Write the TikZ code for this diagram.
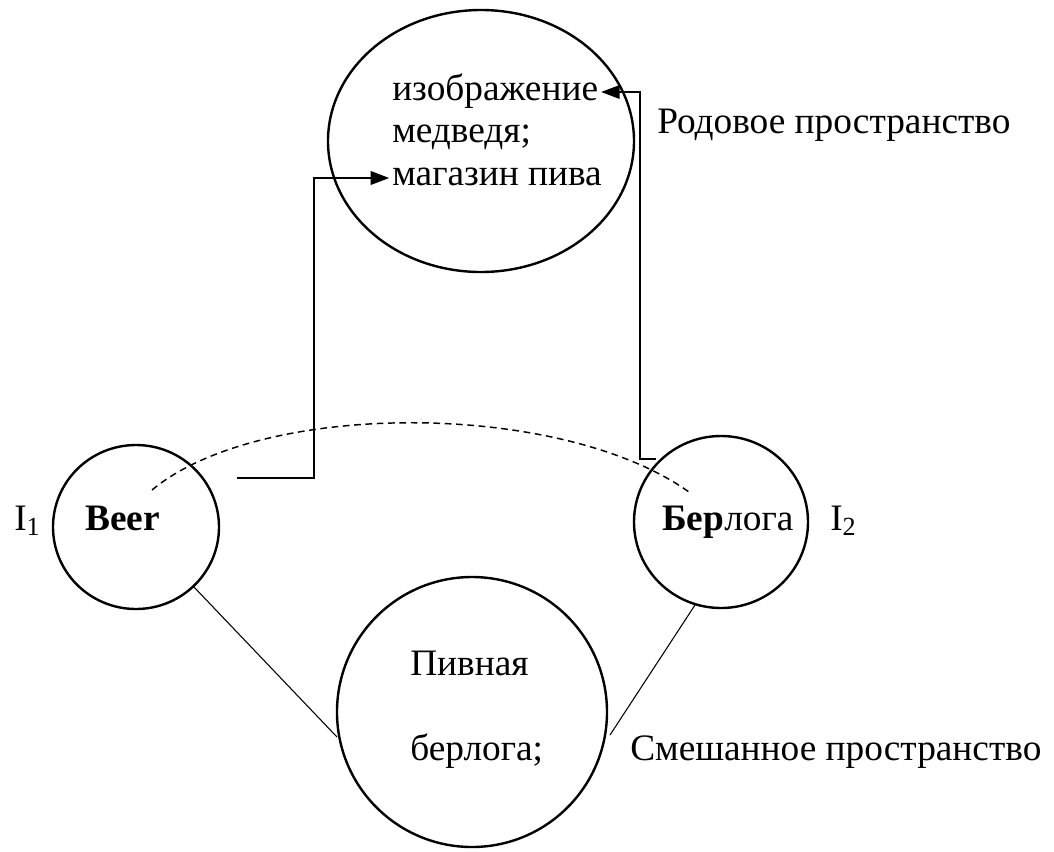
\documentclass[tikz,border=0pt]{standalone}
\usepackage{fontspec}
\setmainfont{Liberation Serif}
\usetikzlibrary{shapes.geometric,arrows.meta}
\begin{document}
\begin{tikzpicture}[x=0.75pt,y=-0.75pt,
  font=\fontsize{28}{32}\selectfont,
  ring/.style={draw, ellipse, line width=1.8pt, inner sep=0pt},
  conn/.style={line width=1.9pt},
  tip/.style={-{Triangle[length=14pt,width=10pt]}},
  thinline/.style={line width=0.8pt},
  lbl/.style={inner sep=0pt, anchor=base west}]
\useasboundingbox (0,0) rectangle (1054,851);
% circles
\node[ring, minimum width=229.5pt, minimum height=196.5pt] (gen) at (481,141) {};
\node[ring, minimum width=124.5pt, minimum height=123pt] (in1) at (136,527) {};
\node[ring, minimum width=130.5pt, minimum height=129pt] (in2) at (721,522) {};
\node[ring, minimum width=202.5pt, minimum height=202.5pt] (blend) at (472,712) {};
% texts
\node[lbl] (img) at (392,100) {изображение};
\node[lbl] (bear) at (392,142) {медведя;};
\node[lbl] (shop) at (392,185) {магазин пива};
\node[lbl] (gentxt) at (657,133) {Родовое пространство};
\node[lbl] (beer) at (85,530) {\textbf{Beer}};
\node[lbl] (i1) at (14,530) {I\textsubscript{1}};
\node[lbl] (berl) at (662,530) {\textbf{Бер}лога};
\node[lbl] (i2) at (830,530) {I\textsubscript{2}};
\node[lbl] (piv) at (410,675) {Пивная};
\node[lbl] (berl2) at (410,760) {берлога;};
\node[lbl] (blendtxt) at (630,760) {Смешанное пространство};
% connectors
\coordinate (s1) at (237,478);
\coordinate (s2) at (656,459);
\draw[conn,tip] (s1) -- (314,478) -- (314,178) -- ([xshift=-2pt]shop.west |- 314,178);
\draw[conn,tip] (s2) -- (640,459) -- (640,92) -- ([xshift=2pt]img.east |- 640,92);
\draw[line width=1.1pt, dash pattern=on 5pt off 3.5pt] (152,490) .. controls (260,400) and (560,400) .. (689,492);
\draw[thinline] (193,586) -- (337,737);
\draw[thinline] (695,605) -- (610,735);
\end{tikzpicture}
\end{document}
